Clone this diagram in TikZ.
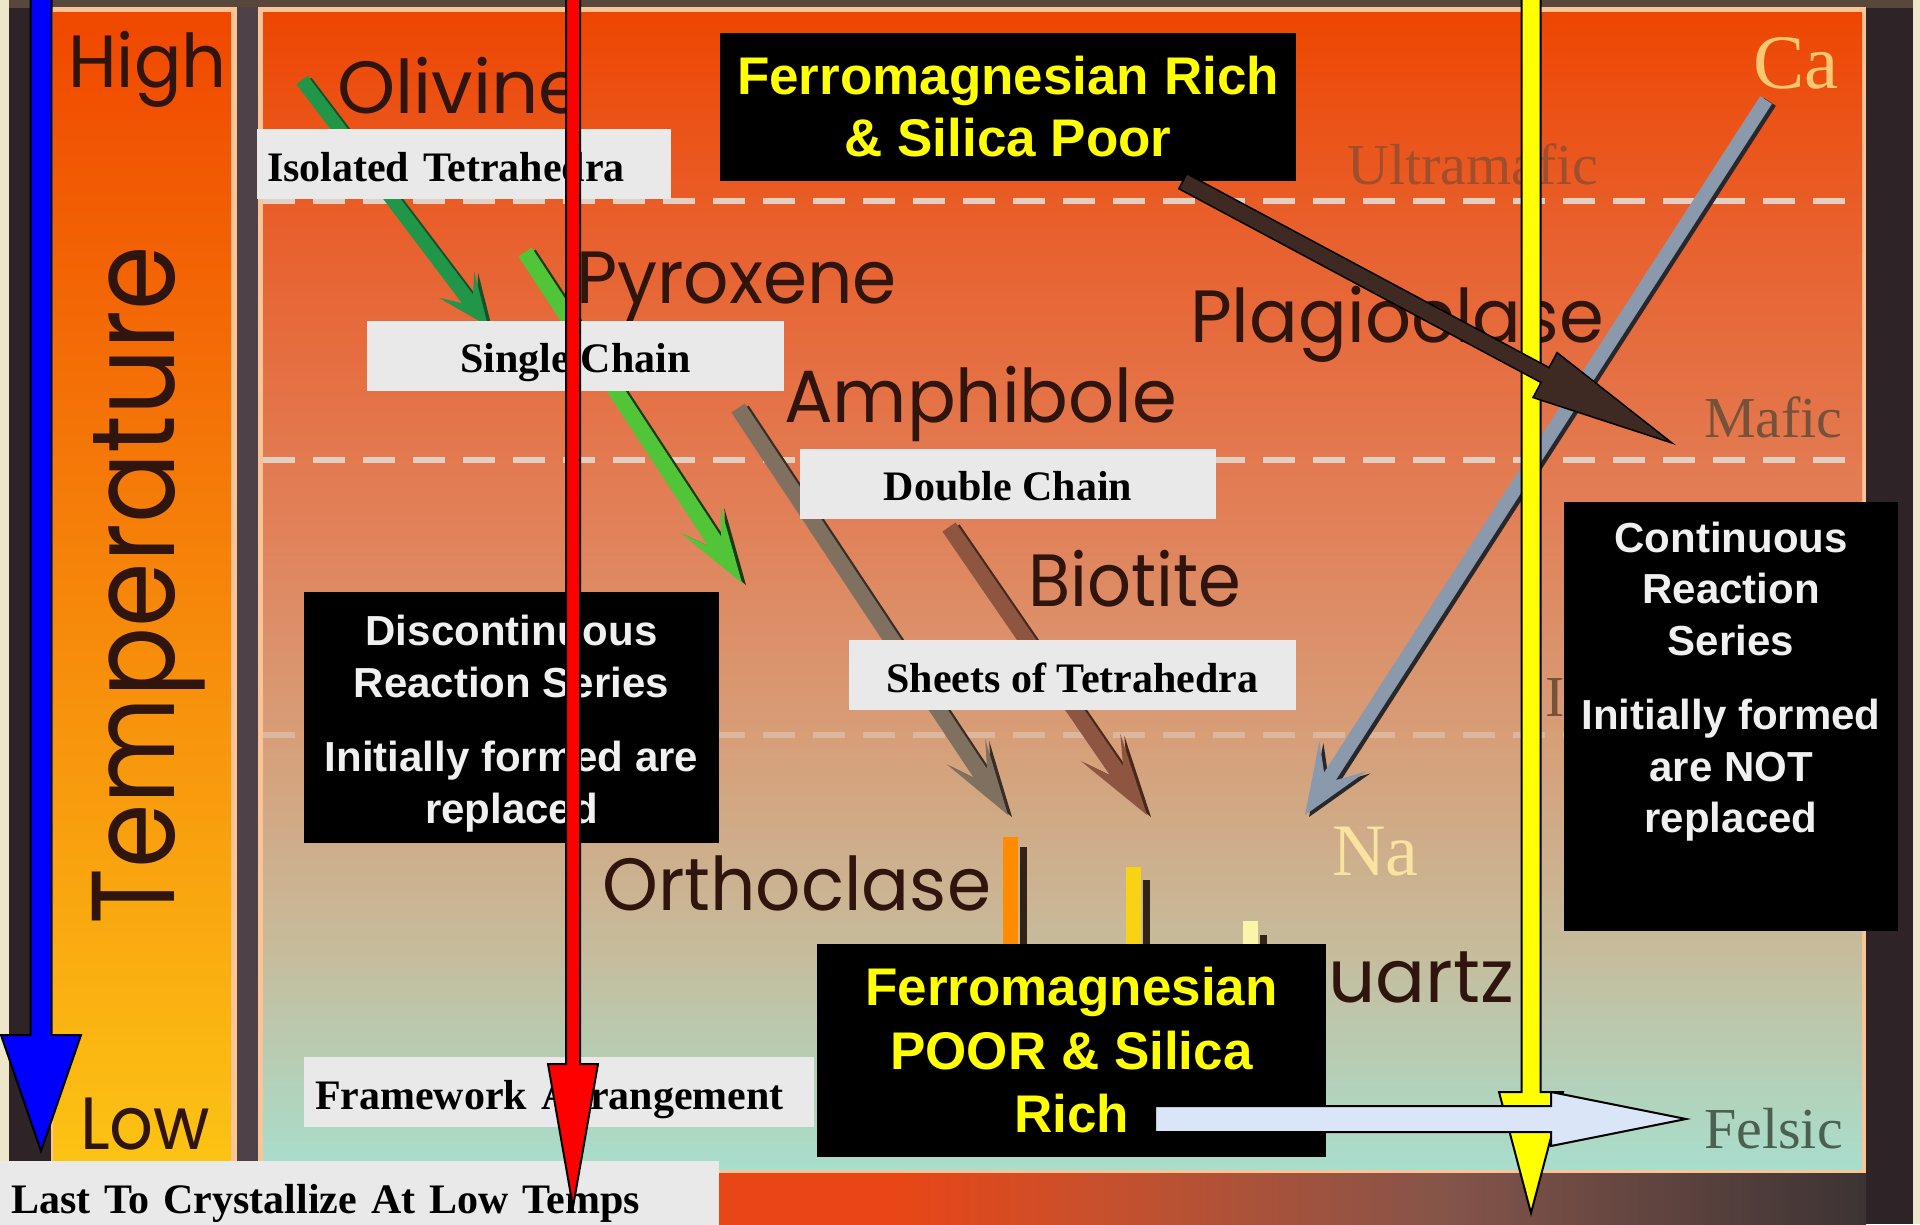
\documentclass[tikz,border=0pt]{standalone}
\usepackage{fontspec}
\usetikzlibrary{calc}

\newfontfamily\mineralfont{Poppins}
\newfontfamily\boxfont{Liberation Sans}
\newfontfamily\labelfont{Liberation Serif}

\definecolor{creamedge}{RGB}{238,230,200}
\definecolor{framedark}{RGB}{46,36,40}
\definecolor{frametop}{RGB}{88,72,60}
\definecolor{framegray}{RGB}{78,66,72}
\definecolor{peach}{RGB}{250,196,150}
\definecolor{tempA}{RGB}{240,72,0}
\definecolor{tempB}{RGB}{246,128,4}
\definecolor{tempC}{RGB}{252,196,20}
\definecolor{panelA}{RGB}{238,70,2}
\definecolor{panelB}{RGB}{232,98,48}
\definecolor{panelC}{RGB}{226,126,86}
\definecolor{panelD}{RGB}{214,160,122}
\definecolor{panelE}{RGB}{198,188,156}
\definecolor{panelF}{RGB}{168,222,204}
\definecolor{botA}{RGB}{232,70,22}
\definecolor{botB}{RGB}{200,80,45}
\definecolor{botC}{RGB}{132,84,74}
\definecolor{botD}{RGB}{60,52,52}
\definecolor{dashgray}{RGB}{228,208,194}
\definecolor{mineralink}{RGB}{48,20,14}
\definecolor{ultracol}{RGB}{160,78,44}
\definecolor{maficcol}{RGB}{118,82,58}
\definecolor{felsiccol}{RGB}{76,96,80}
\definecolor{cacol}{RGB}{250,200,112}
\definecolor{nacol}{RGB}{250,226,160}
\definecolor{labelgray}{RGB}{233,233,233}
\definecolor{boxwhite}{RGB}{240,240,240}
\definecolor{richyellow}{RGB}{255,255,0}
\definecolor{olivgreen}{RGB}{34,150,72}
\definecolor{olivdark}{RGB}{20,80,40}
\definecolor{pyrogreen}{RGB}{82,196,56}
\definecolor{pyrodark}{RGB}{25,60,20}
\definecolor{amphgray}{RGB}{128,112,96}
\definecolor{amphdark}{RGB}{55,45,38}
\definecolor{biobrown}{RGB}{142,86,64}
\definecolor{biodark}{RGB}{70,40,30}
\definecolor{plaggray}{RGB}{138,154,172}
\definecolor{plagdark}{RGB}{40,40,44}
\definecolor{orangebar}{RGB}{255,140,0}
\definecolor{goldbar}{RGB}{250,210,20}
\definecolor{palebar}{RGB}{250,245,170}
\definecolor{bardark}{RGB}{50,35,25}
\definecolor{felsicblue}{RGB}{218,230,248}
\definecolor{pointerbrown}{RGB}{62,42,34}

\tikzset{
  mineral/.style={anchor=base west, inner sep=0pt, text=mineralink,
    font=\mineralfont\fontsize{74}{80}\selectfont},
  zone/.style={anchor=base west, inner sep=0pt,
    font=\labelfont\fontsize{58}{64}\selectfont},
  graylabel/.style={fill=labelgray, inner sep=0pt, minimum height=70pt,
    text height=34pt, text depth=0pt,
    font=\labelfont\bfseries\fontsize{42}{50}\selectfont},
  blackbox/.style={fill=black, inner sep=0pt, align=center},
  richtext/.style={text=richyellow, font=\boxfont\bfseries\fontsize{53}{62}\selectfont},
  seriestext/.style={text=boxwhite, inner sep=0pt, align=center, anchor=north,
    font=\boxfont\bfseries\fontsize{42}{52}\selectfont},
  dashline/.style={dashgray, line width=6pt, dash pattern=on 32pt off 18pt},
  outlined/.style={draw=black, line width=2pt},
  darkside/.style={transform canvas={xshift=4pt, yshift=-2pt}},
}

% squeeze a mineral name to the width of the slide font
\newcommand{\narrow}[2]{\scalebox{#1}[1]{#2}}

% block arrow: style, tail, tip, shaft half width, head half width, head length
\newcommand{\blockarrow}[6]{%
  \coordinate (arrbase) at ($(#3)!#6!(#2)$);
  \path[#1] ($(#2)!#4!90:(#3)$) -- ($(arrbase)!#4!90:(#3)$) -- ($(arrbase)!#5!90:(#3)$)
    -- (#3) -- ($(arrbase)!#5!-90:(#3)$) -- ($(arrbase)!#4!-90:(#3)$)
    -- ($(#2)!#4!-90:(#3)$) -- cycle;}

% barbed arrow: style, tail, tip, shaft half width, head half width, barb back, notch back
\newcommand{\barbarrow}[7]{%
  \coordinate (arrbarb) at ($(#3)!#6!(#2)$);
  \coordinate (arrnotch) at ($(#3)!#7!(#2)$);
  \path[#1] ($(#2)!#4!90:(#3)$) -- ($(arrnotch)!#4!90:(#3)$) -- ($(arrbarb)!#5!90:(#3)$)
    -- (#3) -- ($(arrbarb)!#5!-90:(#3)$) -- ($(arrnotch)!#4!-90:(#3)$)
    -- ($(#2)!#4!-90:(#3)$) -- cycle;}

\begin{document}
\begin{tikzpicture}[x=1pt, y=-1pt]
  \useasboundingbox (0,0) rectangle (1920,1224);
  \clip (0,0) rectangle (1920,1224);

  % frame
  \fill[creamedge] (0,0) rectangle (1920,1224);
  \fill[framedark] (9,0) rectangle (1913,1224);
  \fill[frametop] (9,0) rectangle (1913,8);
  \foreach \xa/\xb/\ca/\cb in {9/900/botA/botA, 899/1100/botA/botB,
      1099/1450/botB/botC, 1449/1866/botC/botD}
    \shade[left color=\ca, right color=\cb] (\xa,1172) rectangle (\xb,1224);

  % temperature bar
  \fill[peach] (51,7) rectangle (237,1172);
  \shade[top color=tempA, middle color=tempB, bottom color=tempC] (53,12) rectangle (231,1172);
  \fill[framegray] (237,7) rectangle (258,1172);

  % panel
  \fill[peach] (258,7) rectangle (1866,1173);
  \foreach \ya/\yb/\ca/\cb in {12/250/panelA/panelB, 250/500/panelB/panelC,
      500/750/panelC/panelD, 750/950/panelD/panelE, 950/1168/panelE/panelF}
    \shade[top color=\ca, bottom color=\cb] (263,\ya) rectangle (1862,\yb+1);
  \draw[dashline] (263,201) -- (1862,201);
  \draw[dashline] (263,460) -- (1862,460);
  \draw[dashline, opacity=.5] (263,735) -- (1862,735);

  % zone labels
  \node[zone, text=ultracol] (ultramafic) at (1347,184) {Ultramafic};
  \node[zone, text=maficcol] (mafic) at (1704,437) {Mafic};
  \node[zone, text=maficcol] (intermediate) at (1545,716) {Intermediate};
  \node[zone, text=felsiccol] (felsic) at (1704,1148) {Felsic};
  \node[zone, text=cacol, font=\labelfont\fontsize{77}{80}\selectfont] (ca) at (1753,88) {Ca};
  \node[zone, text=nacol, font=\labelfont\fontsize{74}{80}\selectfont] (na) at (1332,875) {Na};

  % minerals
  \node[mineral] (high) at (68,87) {\narrow{0.95}{High}};
  \node[mineral] (low) at (80,1149) {\narrow{0.93}{Low}};
  \node[mineral, rotate=90, font=\mineralfont\fontsize{118}{120}\selectfont] (temperature) at (174,925)
    {\narrow{0.88}{Temperature}};
  \node[mineral] (olivine) at (337,113) {Olivine};
  \node[mineral] (pyroxene) at (576,303) {\narrow{0.96}{Pyroxene}};
  \node[mineral] (amphibole) at (784,422) {\narrow{0.975}{Amphibole}};
  \node[mineral] (plagioclase) at (1190,342) {\narrow{0.975}{Plagioclase}};
  \node[mineral] (biotite) at (1028,606) {\narrow{0.93}{Biotite}};
  \node[mineral] (orthoclase) at (602,910) {\narrow{0.96}{Orthoclase}};
  \node[mineral] (quartz) at (1270,1002) {Quartz};

  % reaction arrows
  \coordinate (olivtail) at (302,80);   \coordinate (olivtip) at (488,326);
  \coordinate (pyrotail) at (525,252);  \coordinate (pyrotip) at (742,583);
  \coordinate (amphtail) at (738,408);  \coordinate (amphtip) at (1008,815);
  \coordinate (biotail) at (949,527);   \coordinate (biotip) at (1147,815);
  \coordinate (plagtail) at (1766,100); \coordinate (plagtip) at (1305,815);
  \barbarrow{fill=olivdark, darkside}{olivtail}{olivtip}{7pt}{22pt}{52pt}{34pt}
  \barbarrow{fill=olivgreen}{olivtail}{olivtip}{7pt}{22pt}{52pt}{34pt}
  \barbarrow{fill=pyrodark, darkside}{pyrotail}{pyrotip}{8pt}{24pt}{76pt}{50pt}
  \barbarrow{fill=pyrogreen}{pyrotail}{pyrotip}{8pt}{24pt}{76pt}{50pt}
  \barbarrow{fill=amphdark, darkside}{amphtail}{amphtip}{8pt}{23pt}{76pt}{50pt}
  \barbarrow{fill=amphgray}{amphtail}{amphtip}{8pt}{23pt}{76pt}{50pt}
  \barbarrow{fill=biodark, darkside}{biotail}{biotip}{8pt}{24pt}{82pt}{54pt}
  \barbarrow{fill=biobrown}{biotail}{biotip}{8pt}{24pt}{82pt}{54pt}
  \barbarrow{fill=plagdark, darkside}{plagtail}{plagtip}{7pt}{28pt}{70pt}{46pt}
  \barbarrow{fill=plaggray}{plagtail}{plagtip}{7pt}{28pt}{70pt}{46pt}
  \foreach \xa/\ya/\yb/\col in {1003/837/847/orangebar, 1126/867/880/goldbar, 1243/921/935/palebar} {
    \fill[\col] (\xa,\ya) rectangle (\xa+15,950);
    \fill[bardark] (\xa+17,\yb) rectangle (\xa+24,950);
  }

  % structure labels
  \node[graylabel, text width=394pt, inner xsep=10pt, align=left] (isolated) at (464,164) {Isolated Tetrahedra};
  \node[graylabel, minimum width=417pt] (single) at (575.5,355.5) {Single Chain};
  \node[graylabel, minimum width=416pt] (double) at (1008,483.5) {Double Chain};
  \node[graylabel, minimum width=447pt] (sheets) at (1072.5,675) {Sheets of Tetrahedra};
  \node[graylabel, text width=488pt, inner xsep=11pt, align=left] (framework) at (559,1092) {Framework Arrangement};
  \node[graylabel, text width=697pt, inner xsep=11pt, align=left] (lasttemps) at (359.5,1196) {Last To Crystallize At Low Temps};

  % black boxes
  \node[blackbox, richtext, minimum width=576pt, minimum height=148pt] (richbox) at (1008,107)
    {Ferromagnesian Rich\\\& Silica Poor};
  \node[blackbox, richtext, minimum width=509pt, minimum height=213pt,
    font=\boxfont\bfseries\fontsize{53}{63.5}\selectfont] (poorbox) at (1071.5,1050.5)
    {Ferromagnesian\\POOR \& Silica\\Rich};
  \node[blackbox, minimum width=415pt, minimum height=251pt] (discbox) at (511.5,717.5) {};
  \node[seriestext] (disctext) at ($(discbox.north)+(0,23)$)
    {Discontinuous\\Reaction Series\\[22pt]Initially formed are\\replaced};
  \node[blackbox, minimum width=334pt, minimum height=429pt] (contbox) at (1731,716.5) {};
  \node[seriestext, font=\boxfont\bfseries\fontsize{42}{51.5}\selectfont] (conttext) at ($(contbox.north)+(0,20)$)
    {Continuous\\Reaction\\Series\\[23pt]Initially formed\\are NOT\\replaced};

  % pointer arrows
  \coordinate (yellowtop) at (1531,-10);  \coordinate (yellowtip) at (1531,1213);
  \coordinate (felsictail) at (1155,1119); \coordinate (felsictip) at (1686,1119);
  \coordinate (richtail) at ($(richbox.south west)+(463,0)$); \coordinate (mafictip) at (1672,443);
  \coordinate (redtop) at (573,-10);      \coordinate (redtip) at (573,1207);
  \coordinate (bluetop) at (41,-10);      \coordinate (bluetip) at (41,1151);
  \blockarrow{fill=richyellow, outlined}{yellowtop}{yellowtip}{9.5pt}{32pt}{121pt}
  \blockarrow{fill=felsicblue, outlined}{felsictail}{felsictip}{13pt}{27pt}{135pt}
  \blockarrow{fill=pointerbrown, outlined, line width=1.5pt}{richtail}{mafictip}{8.5pt}{25.5pt}{144pt}
  \blockarrow{fill=red, outlined}{redtop}{redtip}{7pt}{25pt}{143pt}
  \blockarrow{fill=blue, outlined}{bluetop}{bluetip}{10.5pt}{40pt}{116pt}
\end{tikzpicture}
\end{document}
